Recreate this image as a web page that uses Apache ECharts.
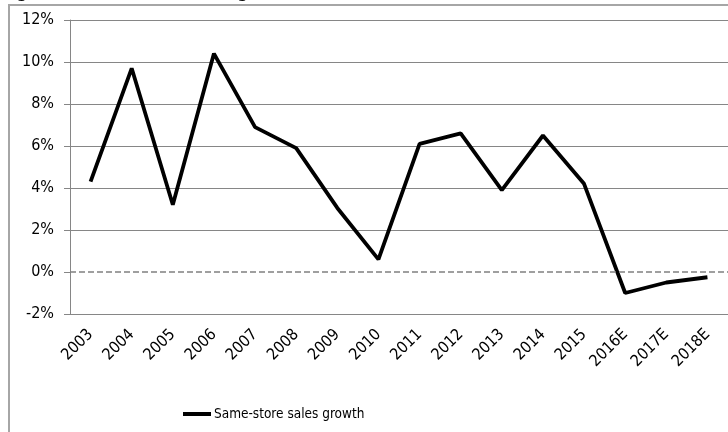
<!DOCTYPE html>
<html><head><meta charset="utf-8">
<script src="https://cdn.jsdelivr.net/npm/echarts@6/dist/echarts.min.js"></script>
<style>html,body{margin:0;padding:0;background:#fff}#c{width:728px;height:432px}</style>
</head><body><div id="c"></div>
<script>
const categories = ['2003','2004','2005','2006','2007','2008','2009','2010','2011','2012','2013','2014','2015','2016E','2017E','2018E'];
const growth = [4.3, 9.7, 3.2, 10.4, 6.9, 5.9, 3.05, 0.6, 6.1, 6.6, 3.9, 6.5, 4.2, -1.0, -0.5, -0.25];
const seriesName = 'Same-store sales growth';
const titleText = 'Figure 5: Same-store sales growth';
const FONT = '"DejaVu Sans Condensed", "Liberation Sans Narrow", "Noto Sans", sans-serif';

const chart = echarts.init(document.getElementById('c'), null, {renderer: 'canvas'});
chart.setOption({
  animation: false,
  title: {text: titleText, left: -4, top: -21, textStyle: {fontFamily: FONT, fontSize: 17, fontWeight: 'bold', color: '#000'}},
  graphic: [{type: 'polyline', z: 100, shape: {points: [[9, 440], [9, 5], [740, 5]]}, style: {stroke: '#a6a6a6', lineWidth: 2, fill: null}}],
  legend: {data: [seriesName], left: 178, top: 402, itemWidth: 28, itemHeight: 4, itemGap: 4,
    icon: 'rect', textStyle: {fontFamily: FONT, fontSize: 13.5, color: '#000', padding: [0,0,0,-2]}},
  grid: {left: 70, right: -1, top: 20, bottom: 118},
  xAxis: {type: 'category', data: categories, boundaryGap: true,
    axisLine: {show: false}, axisTick: {show: false},
    axisLabel: {rotate: 45, fontFamily: FONT, fontSize: 16, color: '#000', margin: 18, interval: 0}},
  yAxis: {type: 'value', min: -2, max: 12, interval: 2,
    axisLine: {show: true, lineStyle: {color: '#868686', width: 1}},
    axisTick: {show: true, length: 6, lineStyle: {color: '#868686'}},
    axisLabel: {formatter: v => v + '%', fontFamily: FONT, fontSize: 16, color: '#000', margin: 16},
    splitLine: {show: true, lineStyle: {color: ['#868686', 'rgba(0,0,0,0)', '#868686', '#868686', '#868686', '#868686', '#868686', '#868686'], width: 1}}},
  series: [{name: seriesName, type: 'line', data: growth, symbol: 'none',
    lineStyle: {color: '#000', width: 3.8}, itemStyle: {color: '#000'},
    markLine: {silent: true, symbol: 'none', label: {show: false},
      lineStyle: {color: '#808080', type: [6, 3], width: 1.5},
      data: [{yAxis: 0}]}}]
});
</script></body></html>
